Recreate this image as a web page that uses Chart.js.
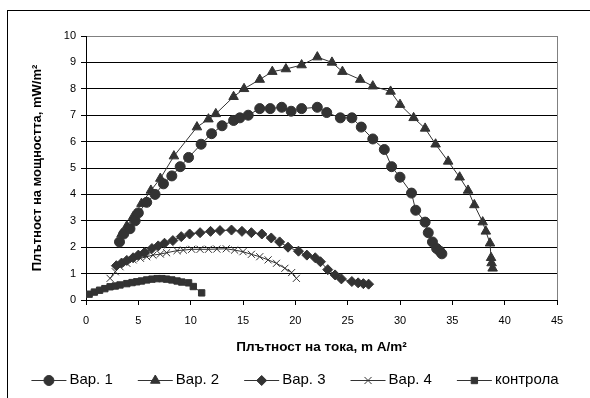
<!DOCTYPE html>
<html>
<head>
<meta charset="utf-8">
<script src="https://cdn.jsdelivr.net/npm/chart.js@4/dist/chart.umd.min.js"></script>
<style>
  html, body { margin: 0; padding: 0; background: #fff; }
  canvas { display: block; }
</style>
</head>
<body>
<canvas id="chart" width="590" height="398"></canvas>
<script>
// values
const var1X = [3.2, 3.6, 4.2, 4.7, 5.0, 5.8, 6.6, 7.4, 8.2, 9.0, 9.8, 11.0, 12.0, 13.0, 14.1, 14.7, 15.5, 16.6, 17.6, 18.7, 19.6, 20.6, 22.1, 23.0, 24.3, 25.4, 26.3, 27.4, 28.5, 29.2, 30.0, 31.1, 31.5, 32.4, 32.7, 33.1, 33.5, 33.8, 34.0];
const var1Y = [2.2, 2.5, 2.7, 3.0, 3.3, 3.7, 4.0, 4.4, 4.7, 5.05, 5.4, 5.9, 6.3, 6.6, 6.8, 6.9, 7.0, 7.25, 7.25, 7.3, 7.15, 7.25, 7.3, 7.1, 6.9, 6.9, 6.55, 6.1, 5.7, 5.05, 4.65, 4.05, 3.4, 2.95, 2.55, 2.2, 1.95, 1.85, 1.75];

const var2X = [3.4, 3.9, 4.5, 5.3, 6.2, 7.1, 8.4, 10.6, 11.7, 12.4, 14.1, 15.1, 16.6, 17.8, 19.1, 20.6, 22.1, 23.5, 24.5, 26.2, 27.4, 29.1, 30.0, 31.3, 32.4, 33.4, 34.6, 35.7, 36.5, 37.1, 37.9, 38.2, 38.6, 38.7, 38.75, 38.85];
const var2Y = [2.5, 2.8, 3.15, 3.65, 4.15, 4.6, 5.45, 6.55, 6.85, 7.05, 7.7, 8.0, 8.35, 8.65, 8.75, 8.9, 9.2, 9.0, 8.65, 8.35, 8.1, 7.9, 7.4, 6.9, 6.5, 5.9, 5.25, 4.65, 4.15, 3.6, 2.95, 2.6, 2.15, 1.6, 1.4, 1.2];

const var3X = [2.9, 3.4, 3.9, 4.5, 5.0, 5.6, 6.3, 6.9, 7.5, 8.3, 9.1, 9.9, 10.9, 11.9, 12.8, 13.9, 14.9, 15.8, 16.8, 17.7, 18.5, 19.3, 20.3, 21.1, 21.9, 22.4, 23.1, 23.8, 24.4, 25.4, 26.0, 26.5, 27.0];
const var3Y = [1.3, 1.4, 1.5, 1.6, 1.7, 1.8, 1.95, 2.05, 2.15, 2.25, 2.4, 2.5, 2.55, 2.6, 2.63, 2.65, 2.6, 2.55, 2.5, 2.35, 2.2, 2.0, 1.85, 1.7, 1.6, 1.45, 1.15, 0.95, 0.8, 0.7, 0.65, 0.62, 0.6];

const var4X = [2.3, 2.8, 3.25, 3.9, 4.5, 5.2, 5.8, 6.4, 7.1, 7.7, 8.7, 9.3, 10.1, 10.9, 11.7, 12.5, 13.4, 14.2, 15.0, 15.8, 16.6, 17.4, 18.2, 19.0, 19.65, 20.1];
const var4Y = [0.82, 1.07, 1.26, 1.39, 1.52, 1.58, 1.64, 1.7, 1.74, 1.79, 1.87, 1.89, 1.92, 1.92, 1.92, 1.93, 1.94, 1.89, 1.83, 1.73, 1.64, 1.52, 1.39, 1.2, 1.04, 0.82];

const controlX = [0.3, 0.8, 1.3, 1.8, 2.3, 2.8, 3.25, 3.9, 4.4, 4.85, 5.3, 5.8, 6.3, 6.8, 7.25, 7.7, 8.2, 8.7, 9.15, 9.8, 10.25, 11.05];
const controlY = [0.22, 0.3, 0.37, 0.43, 0.5, 0.53, 0.57, 0.62, 0.66, 0.69, 0.72, 0.76, 0.79, 0.81, 0.81, 0.79, 0.76, 0.72, 0.68, 0.65, 0.51, 0.27];

const seriesNames = ['Вар. 1', 'Вар. 2', 'Вар. 3', 'Вар. 4', 'контрола'];
const xTitle = 'Плътност на тока, m A/m²';
const yTitle = 'Плътност на мощността, mW/m²';

const ink = '#333333';
const FONT = "'Liberation Sans', Arial, sans-serif";

function pts(xs, ys) {
  return xs.map((x, i) => ({ x: x, y: ys[i] }));
}

function series(label, xs, ys, style, radius) {
  return {
    label: label,
    data: pts(xs, ys),
    showLine: true,
    borderColor: ink,
    borderWidth: 1,
    backgroundColor: ink,
    pointStyle: style,
    pointRadius: radius,
    pointBorderColor: ink,
    pointBackgroundColor: ink,
    pointBorderWidth: 1
  };
}

// outer frame + white background
const framePlugin = {
  id: 'frame',
  beforeDraw(chart) {
    const c = chart.ctx;
    c.save();
    c.fillStyle = '#fff';
    c.fillRect(0, 0, chart.width, chart.height);
    c.strokeStyle = '#000';
    c.lineWidth = 1;
    c.strokeRect(7.5, 10.5, 700, 500);
    c.restore();
  }
};

// legend with line through the marker
const lineLegend = {
  id: 'lineLegend',
  afterDraw(chart) {
    const c = chart.ctx;
    const y = 380;
    const lineLen = 35, gap = 25;
    c.save();
    c.font = '15px ' + FONT;
    c.textBaseline = 'middle';
    const items = chart.data.datasets.map(ds => ({ ds: ds, w: lineLen + 3 + c.measureText(ds.label).width }));
    const total = items.reduce((s, it) => s + it.w, 0) + gap * (items.length - 1);
    let x = (chart.width - total) / 2;
    items.forEach(it => {
      const ds = it.ds;
      c.strokeStyle = ink;
      c.lineWidth = 1;
      c.beginPath();
      c.moveTo(x, y + 0.5);
      c.lineTo(x + lineLen, y + 0.5);
      c.stroke();
      c.fillStyle = ink;
      Chart.helpers.drawPoint(c, {
        pointStyle: ds.pointStyle,
        radius: ds.pointRadius,
        rotation: 0,
        borderWidth: 1
      }, x + lineLen / 2, y + 0.5);
      c.fillStyle = '#000';
      c.fillText(ds.label, x + lineLen + 3, y);
      x += it.w + gap;
    });
    c.restore();
  }
};

new Chart(document.getElementById('chart'), {
  type: 'scatter',
  data: {
    datasets: [
      series(seriesNames[0], var1X, var1Y, 'circle', 5),
      series(seriesNames[1], var2X, var2Y, 'triangle', 5.5),
      series(seriesNames[2], var3X, var3Y, 'rectRot', 5),
      series(seriesNames[3], var4X, var4Y, 'crossRot', 5),
      series(seriesNames[4], controlX, controlY, 'rect', 4.5)
    ]
  },
  options: {
    responsive: false,
    animation: false,
    devicePixelRatio: 1,
    layout: { padding: { left: 22, top: 36, right: 33, bottom: 0 } },
    plugins: {
      legend: { display: false },
      tooltip: { enabled: false }
    },
    scales: {
      x: {
        type: 'linear',
        min: 0,
        max: 45,
        afterFit: (s) => { s.height = 98; },
        ticks: { stepSize: 5, color: '#000', padding: 9, font: { family: FONT, size: 11 } },
        grid: {
          drawOnChartArea: true,
          color: (ctx) => ctx.tick && ctx.tick.value === 45 ? '#808080' : 'rgba(0,0,0,0)',
          tickColor: '#000',
          tickLength: 5
        },
        border: { color: '#000', width: 1 },
        title: {
          display: true,
          text: xTitle,
          color: '#000',
          font: { family: FONT, size: 13.5, weight: 'bold' },
          padding: { top: 0, bottom: 43 }
        }
      },
      y: {
        min: 0,
        max: 10,
        afterFit: (s) => { s.width = 64; },
        ticks: { stepSize: 1, color: '#000', padding: 5, font: { family: FONT, size: 11 } },
        grid: {
          color: (ctx) => ctx.tick && ctx.tick.value === 10 ? '#808080' : '#000',
          tickColor: '#000',
          tickLength: 5
        },
        border: { color: '#000', width: 1 },
        title: {
          display: true,
          text: yTitle,
          color: '#000',
          font: { family: FONT, size: 13, weight: 'bold' },
          padding: { top: 8, bottom: 0 }
        }
      }
    }
  },
  plugins: [framePlugin, lineLegend]
});
</script>
</body>
</html>
